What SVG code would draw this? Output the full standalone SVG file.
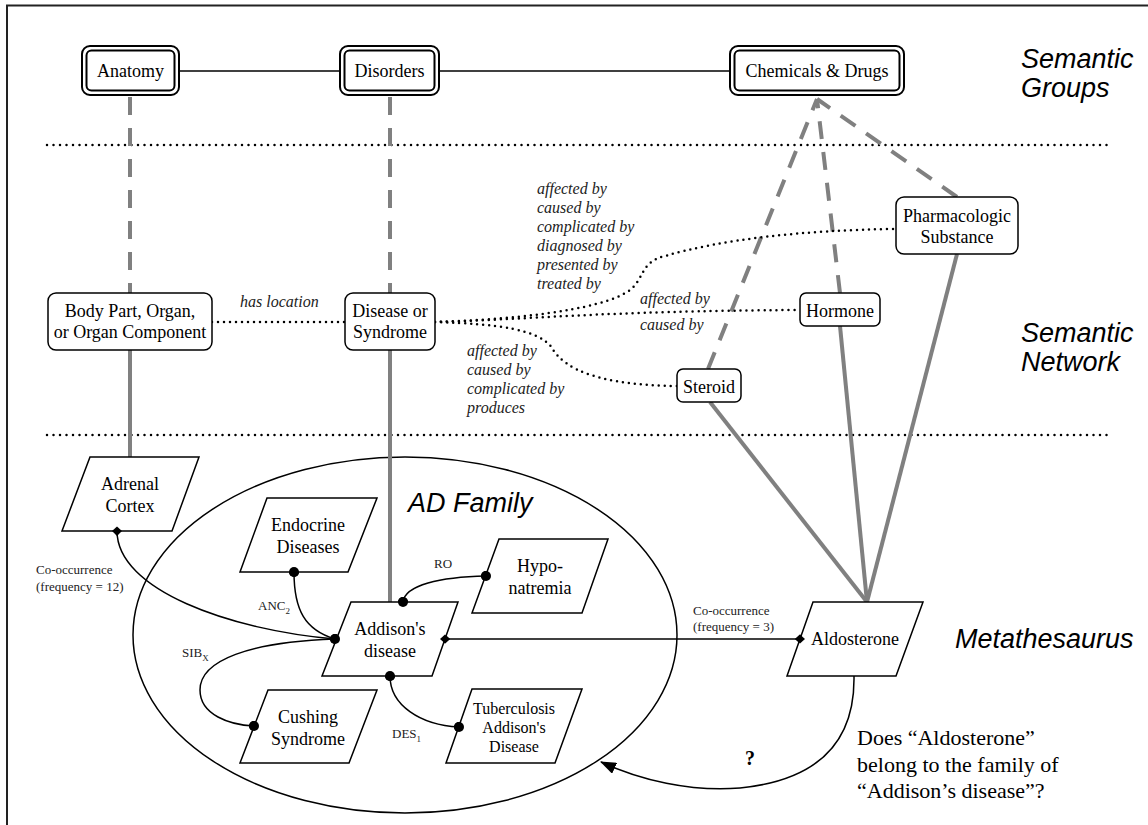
<svg xmlns="http://www.w3.org/2000/svg" width="1148" height="825" viewBox="0 0 1148 825">
<style>
.t{font-family:"Liberation Serif","Times New Roman",serif;font-size:18px;fill:#000;text-anchor:middle}
.t16{font-family:"Liberation Serif","Times New Roman",serif;font-size:16px;fill:#000;text-anchor:middle}
.rel{font-family:"Liberation Serif","Times New Roman",serif;font-size:16px;font-style:italic;fill:#222}
.sm{font-family:"Liberation Serif","Times New Roman",serif;font-size:13px;fill:#222}
.sec{font-family:"Liberation Sans",Arial,sans-serif;font-size:27px;font-style:italic;fill:#000}
.q{font-family:"Liberation Serif","Times New Roman",serif;font-size:22px;fill:#000}
.box{fill:#fff;stroke:#000;stroke-width:1.5}
.gbox{fill:#fff;stroke:#000;stroke-width:2}
.para{fill:#fff;stroke:#000;stroke-width:1.5}
.dot{fill:none;stroke:#000;stroke-width:2.5;stroke-dasharray:0 6;stroke-linecap:round}
.gdash{fill:none;stroke:#808080;stroke-width:4;stroke-dasharray:18 13}
.gsol{fill:none;stroke:#808080;stroke-width:4}
.ln{fill:none;stroke:#000;stroke-width:1.5}
.sep{fill:none;stroke:#000;stroke-width:2.5;stroke-dasharray:0 6.5;stroke-linecap:round}
</style>
<defs>
<marker id="dotm" viewBox="-5 -5 10 10" markerWidth="10" markerHeight="10" markerUnits="userSpaceOnUse"><circle r="5" fill="#000"/></marker>
<marker id="dia" viewBox="-5 -5 10 10" markerWidth="10" markerHeight="10" markerUnits="userSpaceOnUse" orient="auto"><path d="M-5,0 L0,-4.5 L5,0 L0,4.5Z" fill="#000"/></marker>
<marker id="arr" viewBox="0 0 16 12" refX="15" refY="6" markerWidth="16" markerHeight="12" markerUnits="userSpaceOnUse" orient="auto"><path d="M0,0 L16,6 L0,12Z" fill="#000"/></marker>
</defs>
<rect width="1148" height="825" fill="#fff"/>
<path d="M7,825 V5.5 H1148" fill="none" stroke="#222" stroke-width="2"/>

<g id="layers">
<path class="sep" d="M47,145 H1109"/>
<path class="sep" d="M47,435 H1109"/>
<text class="sec" x="1021" y="68">Semantic</text>
<text class="sec" x="1021" y="97">Groups</text>
<text class="sec" x="1021" y="342">Semantic</text>
<text class="sec" x="1021" y="371">Network</text>
<text class="sec" x="955" y="648">Metathesaurus</text>
</g>

<g id="ad-family">
<ellipse cx="405" cy="635" rx="272" ry="178" fill="none" stroke="#000" stroke-width="1.5"/>
<text class="sec" x="408" y="512">AD Family</text>
</g>

<g id="connectors">
<path class="ln" d="M179,71 H340"/>
<path class="ln" d="M439,71 H730"/>
<path class="gdash" d="M130,97 V293"/>
<path class="gdash" d="M390,97 V293"/>
<path class="gdash" d="M708,369 L817,99"/>
<path class="gdash" d="M840,293 L817,99"/>
<path class="gdash" d="M957,197 L817,99"/>
<path class="gsol" d="M130,350 V457"/>
<path class="gsol" d="M390,350 V602"/>
<path class="gsol" d="M710,402 L867,602"/>
<path class="gsol" d="M840,326 L867,602"/>
<path class="gsol" d="M957,254 L867,602"/>
<path class="dot" d="M212,322 H345"/>
<text class="rel" x="240" y="307">has location</text>
<path class="dot" d="M435,322 C500,320 600,312 630,290 C645,278 640,262 665,256 C720,240 800,230 896,229"/>
<path class="dot" d="M435,322 C520,320 600,311 800,310"/>
<path class="dot" d="M435,322 C500,324 540,330 552,348 C565,370 600,385 677,386"/>
<text class="rel"><tspan x="537" y="194">affected by</tspan><tspan x="537" y="213">caused by</tspan><tspan x="537" y="232">complicated by</tspan><tspan x="537" y="251">diagnosed by</tspan><tspan x="537" y="270">presented by</tspan><tspan x="537" y="289">treated by</tspan></text>
<text class="rel"><tspan x="640" y="304">affected by</tspan><tspan x="640" y="330">caused by</tspan></text>
<text class="rel"><tspan x="467" y="356">affected by</tspan><tspan x="467" y="375">caused by</tspan><tspan x="467" y="394">complicated by</tspan><tspan x="467" y="413">produces</tspan></text>
<path class="ln" d="M117,531 C117,590 230,630 335,639" marker-start="url(#dia)" marker-end="url(#dotm)"/>
<text class="sm"><tspan x="36" y="574">Co-occurrence</tspan><tspan x="36" y="591">(frequency = 12)</tspan></text>
<path class="ln" d="M294,572 C294,610 305,630 335,639" marker-start="url(#dotm)"/>
<text class="sm" x="258" y="610">ANC<tspan font-size="9" dy="4">2</tspan></text>
<path class="ln" d="M335,639 C250,642 200,660 200,690 C200,715 230,725 254,726" marker-end="url(#dotm)"/>
<text class="sm" x="182" y="657">SIB<tspan font-size="9" dy="4">X</tspan></text>
<path class="ln" d="M403,602 C405,585 440,577 486,576" marker-start="url(#dotm)" marker-end="url(#dotm)"/>
<text class="sm" x="434" y="568">RO</text>
<path class="ln" d="M390,676 C390,705 420,725 459,727" marker-start="url(#dotm)" marker-end="url(#dotm)"/>
<text class="sm" x="392" y="738">DES<tspan font-size="9" dy="4">1</tspan></text>
<path class="ln" d="M445,639 H800" marker-start="url(#dia)" marker-end="url(#dia)"/>
<text class="sm"><tspan x="693" y="615">Co-occurrence</tspan><tspan x="693" y="631">(frequency = 3)</tspan></text>
<path class="ln" d="M854,676 C855,740 820,780 740,788 C690,792 640,780 601,762" marker-end="url(#arr)"/>
<text x="750" y="765" font-family="Liberation Serif, serif" font-size="20" font-weight="bold" text-anchor="middle">?</text>
<text class="q"><tspan x="857" y="745">Does “Aldosterone”</tspan><tspan x="857" y="772">belong to the family of</tspan><tspan x="857" y="798">“Addison’s disease”?</tspan></text>
</g>

<g id="sg-anatomy">
<rect class="gbox" x="82" y="46" width="97" height="49" rx="8"/>
<rect class="gbox" x="86.5" y="50.5" width="88" height="40" rx="5"/>
<text class="t" x="130.5" y="77">Anatomy</text>
</g>
<g id="sg-disorders">
<rect class="gbox" x="340" y="46" width="99" height="49" rx="8"/>
<rect class="gbox" x="344.5" y="50.5" width="90" height="40" rx="5"/>
<text class="t" x="389.5" y="77">Disorders</text>
</g>
<g id="sg-chemicals">
<rect class="gbox" x="730" y="46" width="174" height="49" rx="8"/>
<rect class="gbox" x="734.5" y="50.5" width="165" height="40" rx="5"/>
<text class="t" x="817" y="77">Chemicals &amp; Drugs</text>
</g>

<g id="sn-bodypart">
<rect class="box" x="48" y="293" width="164" height="57" rx="8"/>
<text class="t"><tspan x="130" y="317">Body Part, Organ,</tspan><tspan x="130" y="338">or Organ Component</tspan></text>
</g>
<g id="sn-disease">
<rect class="box" x="345" y="293" width="90" height="57" rx="8"/>
<text class="t"><tspan x="390" y="317">Disease or</tspan><tspan x="390" y="338">Syndrome</tspan></text>
</g>
<g id="sn-steroid">
<rect class="box" x="677" y="369" width="64" height="33" rx="6"/>
<text class="t" x="709" y="393">Steroid</text>
</g>
<g id="sn-hormone">
<rect class="box" x="800" y="293" width="80" height="33" rx="6"/>
<text class="t" x="840" y="317">Hormone</text>
</g>
<g id="sn-pharma">
<rect class="box" x="896" y="197" width="122" height="57" rx="8"/>
<text class="t"><tspan x="957" y="222">Pharmacologic</tspan><tspan x="957" y="243">Substance</tspan></text>
</g>

<g id="m-adrenal">
<path class="para" d="M90,457 H199 L172,531 H62Z"/>
<text class="t"><tspan x="130" y="490">Adrenal</tspan><tspan x="130" y="512">Cortex</tspan></text>
</g>
<g id="m-endocrine">
<path class="para" d="M267,498 H377 L348,572 H240Z"/>
<text class="t"><tspan x="308" y="531">Endocrine</tspan><tspan x="308" y="553">Diseases</tspan></text>
</g>
<g id="m-addison">
<path class="para" d="M351,602 H458 L432,676 H322Z"/>
<text class="t"><tspan x="390" y="635">Addison's</tspan><tspan x="390" y="657">disease</tspan></text>
</g>
<g id="m-hyponatremia">
<path class="para" d="M499,539 H608 L582,613 H472Z"/>
<text class="t"><tspan x="540" y="572">Hypo-</tspan><tspan x="540" y="594">natremia</tspan></text>
</g>
<g id="m-cushing">
<path class="para" d="M268,690 H377 L349,763 H240Z"/>
<text class="t"><tspan x="308" y="723">Cushing</tspan><tspan x="308" y="745">Syndrome</tspan></text>
</g>
<g id="m-tuberculosis">
<path class="para" d="M472,689 H582 L555,763 H446Z"/>
<text class="t16"><tspan x="514" y="714">Tuberculosis</tspan><tspan x="514" y="733">Addison's</tspan><tspan x="514" y="752">Disease</tspan></text>
</g>
<g id="m-aldosterone">
<path class="para" d="M813,602 H923 L896,676 H787Z"/>
<text class="t" x="855" y="645" font-size="17">Aldosterone</text>
</g>
<g id="connector-ends">
<path d="M112,531 L117,526.5 L122,531 L117,535.5Z"/>
<circle cx="335" cy="639" r="5"/>
<circle cx="294" cy="572" r="5"/>
<circle cx="254" cy="726" r="5"/>
<circle cx="403" cy="602" r="5"/>
<circle cx="486" cy="576" r="5"/>
<circle cx="390" cy="676" r="5"/>
<circle cx="459" cy="727" r="5"/>
<path d="M440,639 L445,634.5 L450,639 L445,643.5Z"/>
<path d="M795,639 L800,634.5 L805,639 L800,643.5Z"/>
</g>
</svg>
